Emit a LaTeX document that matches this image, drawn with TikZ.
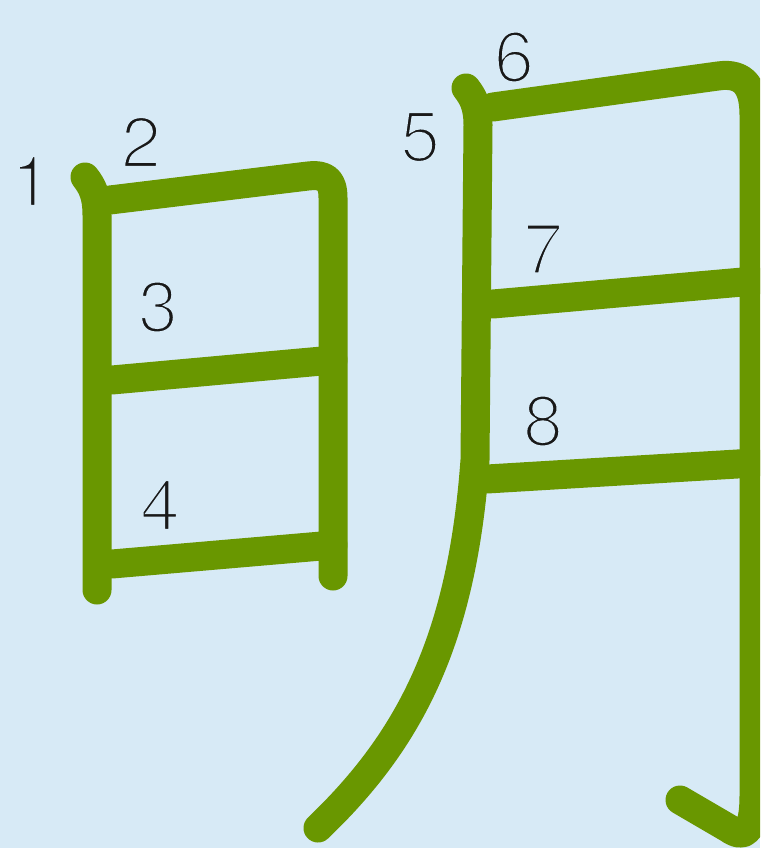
\documentclass[tikz,border=0pt]{standalone}
\usepackage{fontspec}
\setmainfont{TeX Gyre Heros}
\definecolor{bgblue}{RGB}{215,234,246}
\definecolor{strokegreen}{RGB}{105,151,0}
\definecolor{numgray}{RGB}{25,25,25}
\newcommand{\thindigit}[1]{\special{pdf:literal direct 2 Tr 3.2 w 0.843 0.918 0.965 RG}#1\special{pdf:literal direct 0 Tr}}
\begin{document}
\begin{tikzpicture}[x=1pt,y=-1pt,
  kstroke/.style={draw=strokegreen,line width=29pt,line cap=round,line join=round},
  num/.style={inner sep=0pt,text=numgray,font=\fontsize{72}{72}\selectfont}]
\fill[bgblue] (0,0) rectangle (760,848);
\useasboundingbox (0,0) rectangle (760,848);
\begin{scope}
\clip (0,0) rectangle (760,848);
% stroke 1
\draw[kstroke] (85,177) .. controls (92,186) and (97,195) .. (97,215) -- (97,590);
% stroke 2
\draw[kstroke] (110,200) -- (308,176) .. controls (326,174) and (333,180) .. (333,198) -- (333,576);
% stroke 3
\draw[kstroke] (112,380) -- (333,360);
% stroke 4
\draw[kstroke] (112,564) -- (333,545);
% stroke 5
\draw[kstroke] (466,88) .. controls (473,97) and (478,106) .. (478,125) -- (475,460) .. controls (462,640) and (410,740) .. (318,828);
% stroke 6
\draw[kstroke] (493,107) -- (718,76) .. controls (745,72) and (754,88) .. (754,115) -- (754,795) .. controls (754,832) and (745,840) .. (728,828) -- (680,800);
% stroke 7
\draw[kstroke] (493,304) -- (754,281);
% stroke 8
\draw[kstroke] (487,479) -- (754,463);
\end{scope}
\node[num] (n1) at (31,181) {\thindigit{1}};
\node[num] (n2) at (141,142) {\thindigit{2}};
\node[num] (n3) at (158,307) {\thindigit{3}};
\node[num] (n4) at (160,505) {\thindigit{4}};
\node[num] (n5) at (420,137) {\thindigit{5}};
\node[num] (n6) at (514,57) {\thindigit{6}};
\node[num] (n7) at (543,249) {\thindigit{7}};
\node[num] (n8) at (543,421) {\thindigit{8}};
\end{tikzpicture}
\end{document}
